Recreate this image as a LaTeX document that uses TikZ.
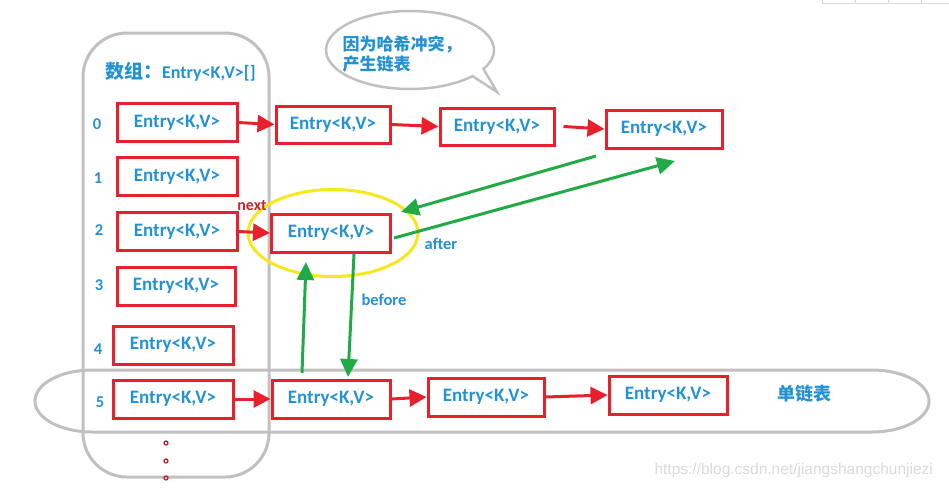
\documentclass[tikz,border=0pt]{standalone}
\usepackage{fontspec}
\setmainfont{Carlito}
\newfontfamily\cjk{Noto Sans CJK SC}
\newfontfamily\webfont{Liberation Sans}
\usetikzlibrary{arrows.meta,calc}

\definecolor{entryblue}{RGB}{36,146,210}
\definecolor{boxred}{RGB}{232,32,44}
\definecolor{linkgreen}{RGB}{34,170,70}
\definecolor{framegray}{RGB}{192,192,192}
\definecolor{ringyellow}{RGB}{245,232,30}
\definecolor{nextred}{RGB}{196,40,40}
\definecolor{markgray}{RGB}{218,218,218}

\tikzset{
  entrybox/.style={draw=boxred, line width=3pt, minimum width=120pt,
    minimum height=38pt, inner sep=0pt, text=entryblue,
    font=\fontsize{19}{19}\selectfont\bfseries},
  idx/.style={text=entryblue, font=\fontsize{16.5}{16.5}\selectfont\bfseries},
  bluelabel/.style={text=entryblue, font=\fontsize{16.5}{16.5}\selectfont\bfseries},
  cjklabel/.style={text=entryblue, font=\cjk\bfseries\fontsize{17}{20}\selectfont, align=left},
  redlink/.style={draw=boxred, line width=3pt, -{Triangle[length=17pt,width=17pt]}},
  greenlink/.style={draw=linkgreen, line width=3pt, -{Triangle[length=18pt,width=17pt]}},
  grayline/.style={draw=framegray, line width=3pt},
}

\begin{document}
\begin{tikzpicture}[x=1pt,y=-1pt]
\useasboundingbox (0,0) rectangle (949,490);

% faint table edge in the top right corner
\draw[markgray, line width=0.8pt] (822,3) -- (949,3);
\foreach \xx in {822,855,888,921} \draw[markgray, line width=0.8pt] (\xx,0) -- (\xx,3);

% array frame and the singly linked list oval
\draw[grayline, rounded corners=44pt] (83,33) rectangle (269,477);
\draw[grayline] (92,370) -- (872,370)
  arc[start angle=-90, end angle=90, x radius=57, y radius=31]
  -- (92,432)
  arc[start angle=90, end angle=270, x radius=57, y radius=31] -- cycle;

% speech bubble
\draw[grayline, line width=2.5pt, fill=white] (410,50) ++(42:84 and 39)
  arc[start angle=42, end angle=389, x radius=84, y radius=39]
  -- (497,92) -- cycle;
\node[cjklabel, anchor=north west] (bubbletext) at (339,32) {因为哈希冲突，\\产生链表};

% array title
\node[anchor=west, text=entryblue, inner sep=0pt] (title) at (105,72)
  {{\cjk\bfseries\fontsize{19}{19}\selectfont 数组：}{\fontsize{18}{18}\selectfont\bfseries Entry<K,V>[]}};

% array slots
\node[entrybox] (a0) at (177,122.5) {Entry<K,V>};
\node[entrybox] (a1) at (177,176.5) {Entry<K,V>};
\node[entrybox] (a2) at (177,231.5) {Entry<K,V>};
\node[entrybox, minimum width=118pt] (a3) at (176,286) {Entry<K,V>};
\node[entrybox] (a4) at (173,345) {Entry<K,V>};
\node[entrybox] (a5) at (173,399) {Entry<K,V>};

\node[idx] (i0) at (97,124) {0};
\node[idx] (i1) at (98,178) {1};
\node[idx] (i2) at (99,230) {2};
\node[idx] (i3) at (99,285) {3};
\node[idx] (i4) at (98,349) {4};
\node[idx] (i5) at (100,402) {5};

% chain of slot 0
\node[entrybox, minimum width=114pt, minimum height=37pt] (c01) at (333,124.5) {Entry<K,V>};
\node[entrybox, minimum width=114pt, minimum height=37pt] (c02) at (497,126.5) {Entry<K,V>};
\node[entrybox, minimum width=116pt] (c03) at (664,129) {Entry<K,V>};

% chain of slot 2
\node[entrybox, minimum width=119pt] (m) at (331,233) {Entry<K,V>};
\draw[ringyellow, line width=3pt] (333,233) ellipse [x radius=85, y radius=43.5];

% chain of slot 5
\node[entrybox, minimum width=118pt] (c51) at (331,399) {Entry<K,V>};
\node[entrybox, minimum width=116pt] (c52) at (486,397) {Entry<K,V>};
\node[entrybox, minimum width=118pt] (c53) at (668,395) {Entry<K,V>};

% next links
\draw[redlink] (a0.east) -- (c01.west);
\draw[redlink] (c01.east) -- (c02.west);
\draw[redlink] ($(c02.east)+(8,0)$) -- (c03.west);
\draw[redlink] (a2.east) -- (m.west);
\draw[redlink] (a5.east) -- (c51.west);
\draw[redlink] (c51.east) -- (c52.west);
\draw[redlink] (c52.east) -- (c53.west);

% before / after links
\coordinate (g1s) at (596,156);
\coordinate (g1e) at (401,212);
\coordinate (g2s) at (394,238);
\coordinate (g2e) at (675,161);
\coordinate (g3s) at (302,373);
\coordinate (g3e) at (306,262);
\coordinate (g4s) at (354,254);
\coordinate (g4e) at (348,377);
\draw[greenlink] (g1s) -- (g1e);
\draw[greenlink] (g2s) -- (g2e);
\draw[greenlink] (g3s) -- (g3e);
\draw[greenlink] (g4s) -- (g4e);

% labels
\node[text=nextred, font=\fontsize{16}{16}\selectfont\bfseries] (nextlbl) at (252,206) {next};
\node[bluelabel] (afterlbl) at (441,244) {after};
\node[bluelabel] (beforelbl) at (384,300) {before};
\node[text=entryblue, font=\cjk\bfseries\fontsize{18}{18}\selectfont] (listlbl) at (804,394) {单链表};

% ellipsis below the array
\foreach \yy in {443,461,478} \draw[boxred!80!black, line width=1.2pt] (166,\yy) circle (2pt);

% watermark
\node[text=markgray, font=\webfont\fontsize{15.5}{15.5}\selectfont, anchor=west] (mark) at (651,470) {https://blog.csdn.net/jiangshangchunjiezi};
\end{tikzpicture}
\end{document}
